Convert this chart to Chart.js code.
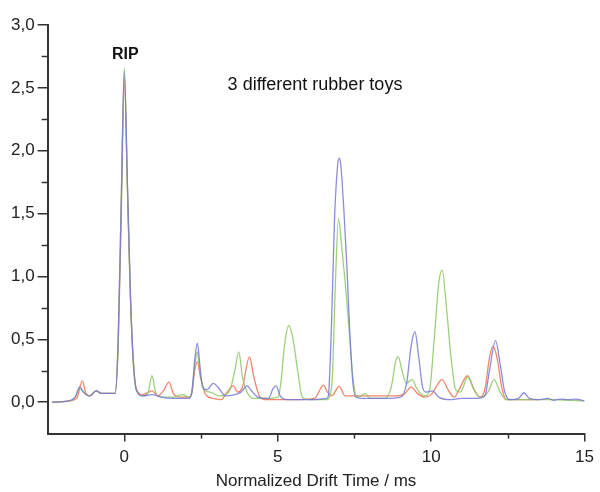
<!DOCTYPE html>
<html>
<head>
<meta charset="utf-8">
<script src="https://cdn.jsdelivr.net/npm/chart.js@4"></script>
<style>
  body { margin: 0; background: #fff; }
  #wrap { width: 600px; height: 492px; position: relative; }
</style>
</head>
<body>
<div id="wrap"><canvas id="chartCanvas"></canvas></div>
<script>
// Data (drift time in ms, intensity)

var blueX = [-2.35, -1.8, -1.6, -1.46, -1.3, -1.14, -0.92, -0.75, -0.3, -0.2, -0.1, 0, 0.1, 0.2, 0.3, 0.4, 0.6, 0.9, 1.2, 1.6, 2.1,
    2.2, 2.3, 2.38, 2.46, 2.55, 2.7, 2.9, 3.05, 3.3, 3.6, 3.8, 4.0, 4.15, 4.35, 4.7, 4.85, 4.95, 5.08, 5.3, 6.0, 6.6,
    6.65, 6.75, 6.85, 6.95, 7.0, 7.05, 7.15, 7.25, 7.35, 7.45, 7.55, 7.8, 8.5, 9.0, 9.2, 9.35, 9.47, 9.6, 9.72, 9.85,
    10.05, 10.25, 10.6, 11.0, 11.5, 11.75, 11.9, 12.1, 12.25, 12.4, 12.6, 12.85, 13.02, 13.2, 13.5, 13.8, 14.0, 14.2,
    14.5, 14.7, 15.0];
var blueY = [0.0, 0.01, 0.04, 0.12, 0.07, 0.05, 0.09, 0.07, 0.07, 0.5, 1.6, 2.63, 1.75, 0.85, 0.3, 0.09, 0.05, 0.06, 0.04, 0.03, 0.03,
    0.08, 0.35, 0.47, 0.3, 0.12, 0.1, 0.15, 0.12, 0.05, 0.06, 0.08, 0.13, 0.09, 0.04, 0.03, 0.11, 0.13, 0.05, 0.02, 0.02, 0.03,
    0.05, 0.6, 1.45, 1.88, 1.94, 1.9, 1.55, 1.1, 0.55, 0.15, 0.04, 0.03, 0.03, 0.04, 0.15, 0.45, 0.56, 0.35, 0.12, 0.08,
    0.09, 0.04, 0.02, 0.03, 0.03, 0.05, 0.25, 0.49, 0.3, 0.08, 0.02, 0.03, 0.075, 0.03, 0.02, 0.03, 0.015, 0.025,
    0.02, 0.025, 0.01];

var greenX = [-2.35, -1.8, -1.6, -1.46, -1.3, -1.14, -0.92, -0.75, -0.3, -0.2, -0.1, 0, 0.1, 0.2, 0.3, 0.4, 0.6, 0.78, 0.9, 1.02,
    1.2, 1.6, 1.9, 2.1, 2.2, 2.3, 2.38, 2.46, 2.6, 2.8, 3.1, 3.3, 3.45, 3.6, 3.73, 3.85, 4.0, 4.2, 4.7, 5.0, 5.1, 5.22, 5.36,
    5.5, 5.65, 5.8, 6.0, 6.6, 6.7, 6.78, 6.88, 6.98, 7.08, 7.2, 7.32, 7.45, 7.58, 7.7, 7.85, 8.0, 8.5, 8.7, 8.85, 8.93,
    9.05, 9.19, 9.38, 9.55, 9.8, 9.95, 10.1, 10.25, 10.36, 10.5, 10.65, 10.8, 10.95, 11.2, 11.4, 11.6, 11.85, 12.05,
    12.25, 12.45, 12.8, 13.5, 14.0, 14.5, 15.0];
var greenY = [0.0, 0.01, 0.04, 0.11, 0.07, 0.05, 0.09, 0.07, 0.07, 0.5, 1.62, 2.66, 1.72, 0.82, 0.28, 0.09, 0.05, 0.08, 0.21, 0.08,
    0.04, 0.04, 0.06, 0.04, 0.08, 0.3, 0.4, 0.25, 0.1, 0.08, 0.05, 0.06, 0.1, 0.25, 0.4, 0.2, 0.08, 0.03, 0.03, 0.04, 0.15, 0.45, 0.61,
    0.5, 0.25, 0.04, 0.02, 0.02, 0.05, 0.2, 0.95, 1.46, 1.25, 0.95, 0.6, 0.2, 0.04, 0.05, 0.07, 0.03, 0.03, 0.12, 0.33, 0.36,
    0.25, 0.15, 0.18, 0.1, 0.05, 0.1, 0.5, 0.95, 1.05, 0.75, 0.35, 0.1, 0.08, 0.2, 0.1, 0.04, 0.08, 0.18,
    0.08, 0.02, 0.02, 0.02, 0.02, 0.015, 0.01];

var redX = [-2.35, -1.8, -1.55, -1.37, -1.25, -1.1, -0.92, -0.75, -0.3, -0.2, -0.1, 0, 0.1, 0.2, 0.3, 0.4, 0.6, 0.9, 1.1, 1.3,
    1.45, 1.6, 1.8, 2.1, 2.2, 2.3, 2.38, 2.48, 2.65, 2.9, 3.15, 3.35, 3.55, 3.7, 3.85, 4.08, 4.22, 4.4, 4.6, 5.5, 6.2,
    6.49, 6.62, 6.76, 7.0, 7.2, 7.5, 8.0, 8.7, 9.1, 9.35, 9.55, 9.8, 10.0, 10.36, 10.55, 10.75, 10.95, 11.18, 11.4,
    11.58, 11.75, 11.9, 12.01, 12.15, 12.3, 12.45, 13.0, 13.5];
var redY = [0.0, 0.01, 0.03, 0.17, 0.07, 0.05, 0.09, 0.07, 0.07, 0.45, 1.5, 2.57, 1.7, 0.82, 0.3, 0.1, 0.06, 0.09, 0.05, 0.1,
    0.16, 0.07, 0.04, 0.04, 0.07, 0.26, 0.32, 0.2, 0.06, 0.03, 0.02, 0.08, 0.13, 0.08, 0.12, 0.36, 0.2, 0.05, 0.02, 0.02, 0.03,
    0.135, 0.08, 0.05, 0.125, 0.05, 0.05, 0.05, 0.05, 0.06, 0.12, 0.07, 0.04, 0.06, 0.18, 0.1, 0.04, 0.12, 0.21, 0.1,
    0.04, 0.1, 0.35, 0.445, 0.35, 0.12, 0.02, 0.02, 0.02];

var xTicks = [0, 5, 10, 15];
var xMinorTicks = [2.5, 7.5, 12.5];
var yTicks = [0, 0.5, 1.0, 1.5, 2.0, 2.5, 3.0];
var yMinorTicks = [0.25, 0.75, 1.25, 1.75, 2.25, 2.75];

var xTitle = 'Normalized Drift Time / ms';
var ripLabel = 'RIP';
var noteLabel = '3 different rubber toys';

function toPoints(xs, ys) {
    return xs.map(function (x, i) {
        return {x: x, y: ys[i]};
    });
}

function makeDataset(label, xs, ys, color, order) {
    return {
        label: label,
        data: toPoints(xs, ys),
        borderColor: color,
        borderWidth: 1.3,
        pointRadius: 0,
        showLine: true,
        fill: false,
        cubicInterpolationMode: 'monotone',
        order: order
    };
}

var axisColor = '#333';

// minor ticks + text labels
var extrasPlugin = {
    id: 'extras',
    afterDraw: function (chart) {
        var ctx = chart.ctx;
        var xs = chart.scales.x;
        var ys = chart.scales.y;
        var area = chart.chartArea;

        ctx.save();
        ctx.strokeStyle = axisColor;
        ctx.lineWidth = 1.5;
        yMinorTicks.forEach(function (v) {
            var py = Math.round(ys.getPixelForValue(v)) + 0.5;
            ctx.beginPath();
            ctx.moveTo(area.left - 6, py);
            ctx.lineTo(area.left, py);
            ctx.stroke();
        });
        xMinorTicks.forEach(function (v) {
            var px = Math.round(xs.getPixelForValue(v)) + 0.5;
            ctx.beginPath();
            ctx.moveTo(px, area.bottom);
            ctx.lineTo(px, area.bottom + 5);
            ctx.stroke();
        });

        ctx.fillStyle = '#111';
        ctx.textAlign = 'center';
        ctx.textBaseline = 'middle';
        ctx.font = 'bold 16px "Liberation Sans", Arial, sans-serif';
        ctx.fillText(ripLabel, xs.getPixelForValue(0) + 1, 55);

        ctx.font = '18px "Liberation Sans", Arial, sans-serif';
        ctx.fillText(noteLabel, 315, 85);

        // axis title, centred under the plot area
        ctx.fillStyle = '#222';
        ctx.font = '17px "Liberation Sans", Arial, sans-serif';
        ctx.fillText(xTitle, (area.left + area.right) / 2, 481);
        ctx.restore();
    }
};

function commaLabel(v) {
    return v.toFixed(1).replace('.', ',');
}

var ctx = document.getElementById('chartCanvas');

var chart = new Chart(ctx, {
    type: 'scatter',
    data: {
        datasets: [
            makeDataset('Toy 1', blueX, blueY, 'rgba(120, 120, 215, 0.85)', 1),
            makeDataset('Toy 2', greenX, greenY, 'rgba(140, 200, 100, 0.85)', 2),
            makeDataset('Toy 3', redX, redY, 'rgba(240, 110, 80, 0.85)', 3)
        ]
    },
    plugins: [extrasPlugin],
    options: {
        responsive: true,
        maintainAspectRatio: false,
        devicePixelRatio: 1,
        animation: false,
        layout: {
            padding: {left: 8, right: 11, top: 25, bottom: 18}
        },
        plugins: {
            legend: {display: false},
            tooltip: {enabled: false}
        },
        scales: {
            x: {
                type: 'linear',
                min: -2.5,
                max: 15,
                afterBuildTicks: function (scale) {
                    scale.ticks = xTicks.map(function (v) { return {value: v}; });
                },
                grid: {
                    drawOnChartArea: false,
                    drawTicks: true,
                    tickLength: 8,
                    color: axisColor,
                    lineWidth: 1.5
                },
                border: {display: true, color: axisColor, width: 2},
                ticks: {
                    color: '#222',
                    padding: 6,
                    maxRotation: 0,
                    font: {family: '"Liberation Sans", Arial, sans-serif', size: 17}
                }
            },
            y: {
                min: -0.25,
                max: 3.0,
                afterBuildTicks: function (scale) {
                    scale.ticks = yTicks.map(function (v) { return {value: v}; });
                },
                grid: {
                    drawOnChartArea: false,
                    drawTicks: true,
                    tickLength: 10,
                    color: axisColor,
                    lineWidth: 1.5
                },
                border: {display: true, color: axisColor, width: 2},
                ticks: {
                    color: '#222',
                    padding: 3,
                    callback: function (v) { return commaLabel(v); },
                    font: {family: '"Liberation Sans", Arial, sans-serif', size: 17}
                }
            }
        }
    }
});
</script>
</body>
</html>
